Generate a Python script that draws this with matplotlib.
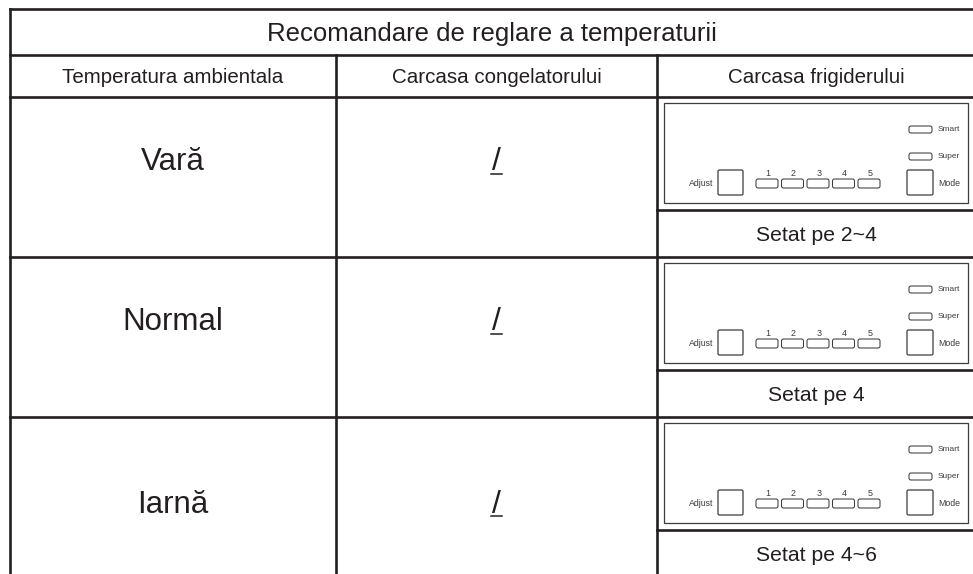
import matplotlib
matplotlib.use('Agg')
import matplotlib.pyplot as plt
from matplotlib.patches import Rectangle, FancyBboxPatch

#* Table content
TITLE = 'Recomandare de reglare a temperaturii'
HEADERS = ['Temperatura ambientala', 'Carcasa congelatorului', 'Carcasa frigiderului']
SEASONS = ['Vară', 'Normal', 'Iarnă']
FREEZER = ['/', '/', '/']
FRIDGE = ['Setat pe 2~4', 'Setat pe 4', 'Setat pe 4~6']
LEVELS = ['1', '2', '3', '4', '5']
INDICATORS = ['Smart', 'Super']

#* Layout (pixels, y down)
W, H = 973, 574
COL_X = [9.5, 336, 657, 975]
TITLE_Y = [8.5, 55]
HEAD_Y = 97
ROW_H = 160
PANEL_H = 113
LABEL_BASE = [73.5, 73.5, 96]   # baseline offset of the big labels in each row

INK = '#231f20'
THIN = '#3c3c3c'
plt.rcParams['font.family'] = ['Liberation Sans', 'DejaVu Sans']

fig = plt.figure(figsize=(W / 100, H / 100), dpi=100)
ax = fig.add_axes([0, 0, 1, 1])
ax.set_xlim(0, W)
ax.set_ylim(H, 0)
ax.axis('off')


def hline(y, x0, x1, lw=1.9, color=INK):
    ax.plot([x0, x1], [y, y], color=color, lw=lw, solid_capstyle='projecting')


def vline(x, y0, y1, lw=1.9, color=INK):
    ax.plot([x, x], [y0, y1], color=color, lw=lw, solid_capstyle='projecting')


def rbox(x, y, w, h, r=2.0, lw=0.75):
    ax.add_patch(FancyBboxPatch((x, y), w, h,
                                boxstyle=f'round,pad=0,rounding_size={r}',
                                fc='white', ec=THIN, lw=lw))


def panel(top):
    # control panel drawing inside the fridge column
    x0 = COL_X[2] + 7
    ax.add_patch(Rectangle((x0, top + 6), 304, 100, fc='white', ec=THIN, lw=0.9))
    for i, name in enumerate(INDICATORS):
        y = top + 29 + i * 27
        rbox(909, y, 23, 7)
        ax.text(938, y + 3.5, name, fontsize=6, color=THIN, va='center', ha='left')
    # Adjust / Mode keys
    rbox(718, top + 73, 25, 25, r=1.5, lw=0.9)
    ax.text(713, top + 86, 'Adjust', fontsize=6.3, color=THIN, va='center', ha='right')
    rbox(907, top + 73, 26, 25, r=1.5, lw=0.9)
    ax.text(938, top + 86, 'Mode', fontsize=6.3, color=THIN, va='center', ha='left')
    # level buttons
    for i, lab in enumerate(LEVELS):
        bx = 756 + i * 25.5
        rbox(bx, top + 82, 22, 9)
        ax.text(bx + 12, top + 79, lab, fontsize=6.5, color=THIN, va='baseline', ha='center')


# outer frame and title row
hline(TITLE_Y[0], COL_X[0], COL_X[3])
hline(TITLE_Y[1], COL_X[0], COL_X[3])
hline(HEAD_Y, COL_X[0], COL_X[3])
vline(COL_X[0], TITLE_Y[0], H + 5)
vline(COL_X[3], TITLE_Y[0], H + 5)
for x in COL_X[1:3]:
    vline(x, TITLE_Y[1], H + 5)

ax.text((COL_X[0] + COL_X[3]) / 2, 41.5, TITLE, fontsize=18.5, color=INK,
        ha='center', va='baseline')
for i, head in enumerate(HEADERS):
    ax.text((COL_X[i] + COL_X[i + 1]) / 2, 83, head, fontsize=14.8, color=INK,
            ha='center', va='baseline')

for i, season in enumerate(SEASONS):
    top = HEAD_Y + i * ROW_H
    if i > 0:
        hline(top, COL_X[0], COL_X[3])
    hline(top + PANEL_H, COL_X[2], COL_X[3])
    cx1 = (COL_X[0] + COL_X[1]) / 2
    cx2 = (COL_X[1] + COL_X[2]) / 2
    cx3 = (COL_X[2] + COL_X[3]) / 2
    base = top + LABEL_BASE[i]
    ax.text(cx1, base, season, fontsize=22.5, color=INK, ha='center', va='baseline')
    # underlined slash
    ax.text(cx2, base, FREEZER[i], fontsize=23, color=INK, ha='center', va='baseline')
    ax.plot([cx2 - 5.5, cx2 + 5.5], [base + 3, base + 3], color=INK, lw=1.1)
    panel(top)
    ax.text(cx3, top + 144, FRIDGE[i], fontsize=15.2, color=INK, ha='center', va='baseline')

fig.savefig('out.png', dpi=100, facecolor='white')
